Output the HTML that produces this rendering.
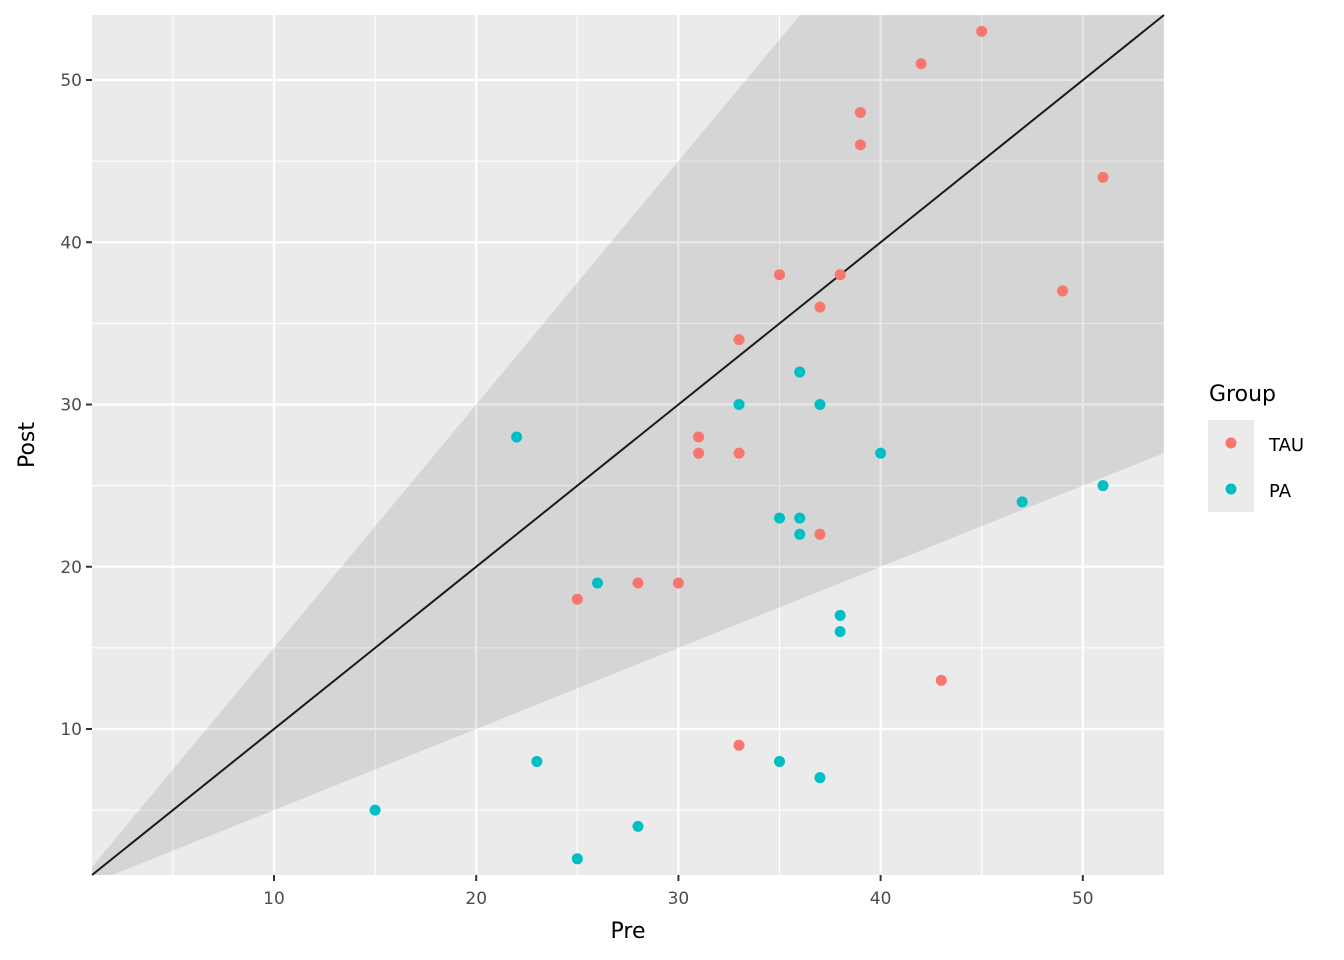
<!DOCTYPE html>
<html><head><meta charset="utf-8"><style>body{margin:0;background:#fff}svg{display:block}text{font-family:"DejaVu Sans","Liberation Sans",sans-serif}</style></head>
<body>
<svg id="s" width="1344" height="960" xmlns="http://www.w3.org/2000/svg">
<rect x="92" y="15" width="1072" height="860" fill="#EBEBEB"/>
<g id="grid"></g>
<polygon id="band" fill="#000" fill-opacity="0.089"/>
<line x1="92" y1="875" x2="1164" y2="15" stroke="#1a1a1a" stroke-width="2"/>
<g id="pts"></g>
<g id="axes" font-size="17" fill="#4D4D4D"></g>
<text x="628" y="938" font-size="22" text-anchor="middle" fill="#000">Pre</text>
<text transform="translate(34,445) rotate(-90)" font-size="22" text-anchor="middle" fill="#000">Post</text>
<text x="1209" y="401" font-size="22" fill="#000">Group</text>
<rect x="1208" y="420" width="46" height="92" fill="#EBEBEB"/>
<circle cx="1231" cy="443" r="5.5" fill="#F8766D"/>
<circle cx="1231" cy="489" r="5.5" fill="#00BFC4"/>
<text x="1269" y="451" font-size="18" fill="#000">TAU</text>
<text x="1269" y="497" font-size="18" fill="#000">PA</text>
</svg>
<script>
const X=v=>274+(v-10)*20.22, Y=v=>729-(v-10)*16.225;
const ns="http://www.w3.org/2000/svg";
function el(p,t,a,txt){const e=document.createElementNS(ns,t);for(const k in a)e.setAttribute(k,a[k]);if(txt!=null)e.textContent=txt;document.getElementById(p).appendChild(e);}
for(let v=5;v<=50;v+=5){const maj=v%10==0;
el("grid","line",{x1:X(v),x2:X(v),y1:15,y2:875,stroke:"#fff","stroke-width":maj?2.2:1.1});
el("grid","line",{y1:Y(v),y2:Y(v),x1:92,x2:1164,stroke:"#fff","stroke-width":maj?2.2:1.1});
if(maj){el("axes","text",{x:X(v),y:904,"text-anchor":"middle"},v);
el("axes","text",{x:82,y:Y(v)+6,"text-anchor":"end"},v);
el("axes","line",{x1:X(v),x2:X(v),y1:875,y2:881,stroke:"#333","stroke-width":2});
el("axes","line",{x1:86,x2:92,y1:Y(v),y2:Y(v),stroke:"#333","stroke-width":2});}}
document.getElementById("band").setAttribute("points",[[1,1.5],[36,54],[54,54],[54,27],[2,1],[1,1]].map(p=>X(p[0])+","+Y(p[1])).join(" "));
const tau=[[45,53],[42,51],[39,48],[39,46],[51,44],[35,38],[38,38],[49,37],[37,36],[33,34],[31,28],[31,27],[33,27],[37,22],[28,19],[30,19],[25,18],[43,13],[33,9]];
const pa=[[36,32],[33,30],[37,30],[22,28],[40,27],[51,25],[47,24],[35,23],[36,23],[36,22],[26,19],[38,17],[38,16],[23,8],[35,8],[37,7],[15,5],[28,4],[25,2]];
tau.forEach(p=>el("pts","circle",{cx:X(p[0]),cy:Y(p[1]),r:5.5,fill:"#F8766D"}));
pa.forEach(p=>el("pts","circle",{cx:X(p[0]),cy:Y(p[1]),r:5.5,fill:"#00BFC4"}));
</script>
</body></html>
